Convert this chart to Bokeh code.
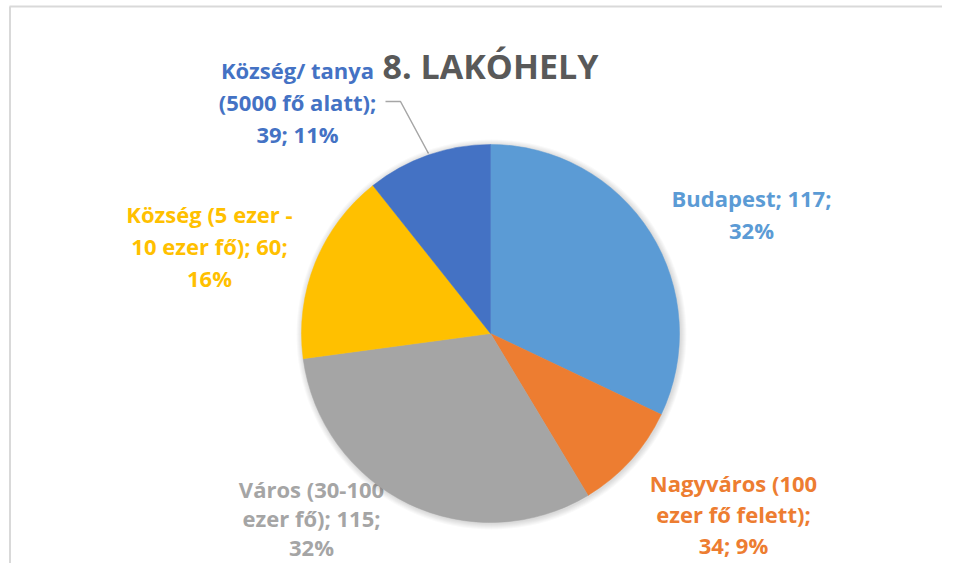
import math
import textwrap
from bokeh.plotting import figure
from bokeh.models import Range1d
from bokeh.core.properties import value
from bokeh.embed import file_html
from bokeh.resources import INLINE

# ---- data ----
title_text = "8. LAKÓHELY"
categories = ["Budapest", "Nagyváros (100 ezer fő felett)", "Város (30-100 ezer fő)",
              "Község (5 ezer - 10 ezer fő)", "Község/ tanya (5000 fő alatt)"]
values = [117, 34, 115, 60, 39]
colors = ["#5B9BD5", "#ED7D31", "#A5A5A5", "#FFC000", "#4472C4"]

# ---- layout (screen pixel coordinates) ----
FW, FH = 942, 563
def sy(y):
    return FH - y

cx, cy, R = 490, 333, 189
wrap_widths = [14, 16, 14, 16, 16]
label_centers_x = [751, 733, 311, 209, 297]
label_first_baseline = [197, 482, 488, 213, 69]
label_steps = [32, 31, 29, 32, 32]
FONT = "Open Sans"

p = figure(width=FW, height=FH, output_backend="svg", toolbar_location=None,
           x_range=Range1d(0, FW), y_range=Range1d(0, FH), min_border=0)
p.axis.visible = False
p.grid.visible = False
p.outline_line_color = None
p.background_fill_color = "white"
p.border_fill_color = "white"

# frame border lines
p.line([9, FW], [sy(6), sy(6)], line_color="#d9d9d9", line_width=2)
p.line([9.5, 9.5], [sy(6), sy(FH)], line_color="#d9d9d9", line_width=2)

total = sum(values)
pcts = [round(v * 100 / total) for v in values]

# labels (drawn before the pie, so the pie covers overlaps)
for i, (cat, v, pc) in enumerate(zip(categories, values, pcts)):
    full = f"{cat}; {v}; {pc}%"
    lines = textwrap.wrap(full, width=wrap_widths[i], break_on_hyphens=False,
                          break_long_words=False)
    xs = [label_centers_x[i]] * len(lines)
    ys = [sy(label_first_baseline[i] + k * label_steps[i]) for k in range(len(lines))]
    p.text(x=xs, y=ys, text=lines, text_align="center", text_baseline="alphabetic",
           text_font=value(FONT), text_font_style="bold", text_font_size="22px",
           text_color=colors[i])

# leader line for the last slice
p.line([385, 400, 428], [sy(101), sy(101), sy(153)], line_color="#a6a6a6", line_width=1.5)

# soft shadow
for k in range(1, 7):
    p.circle(x=[cx + 1], y=[sy(cy) - 1], radius=R + k, fill_color="black",
             fill_alpha=0.025, line_color=None)

# pie wedges
cum = 0.0
for v, c in zip(values, colors):
    start = math.pi / 2 - 2 * math.pi * cum / total
    cum += v
    end = math.pi / 2 - 2 * math.pi * cum / total
    p.wedge(x=[cx], y=[sy(cy)], radius=R, start_angle=start, end_angle=end,
            direction="clock", fill_color=c, line_color=c, line_width=0.5)

# title
p.text(x=[490], y=[sy(65)], text=[title_text], text_align="center",
       text_baseline="alphabetic", text_font=value(FONT), text_font_style="bold",
       text_font_size="34px", text_color="#595959")

open("out.html", "w").write(file_html(p, INLINE))
